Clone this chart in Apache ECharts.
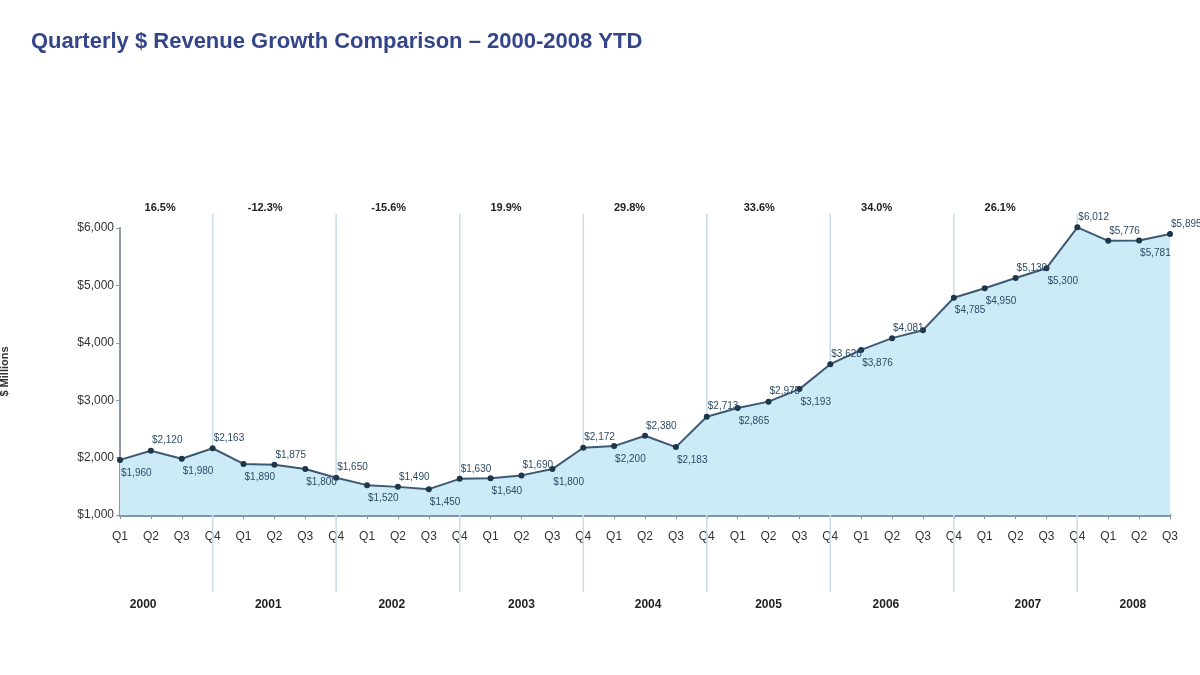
<!DOCTYPE html>
<html>
<head>
<meta charset="utf-8">
<script src="https://cdn.jsdelivr.net/npm/echarts@6/dist/echarts.min.js"></script>
<style>
  html, body { margin: 0; padding: 0; background: #ffffff; }
  #chart { width: 1200px; height: 675px; }
</style>
</head>
<body>
<div id="chart"></div>
<script>
// ---- Data ----
const quarters = [
  'Q1','Q2','Q3','Q4', 'Q1','Q2','Q3','Q4', 'Q1','Q2','Q3','Q4',
  'Q1','Q2','Q3','Q4', 'Q1','Q2','Q3','Q4', 'Q1','Q2','Q3','Q4',
  'Q1','Q2','Q3','Q4', 'Q1','Q2','Q3','Q4', 'Q1','Q2','Q3'
];
const revenue = [
  1960, 2120, 1980, 2163,   // 2000
  1890, 1875, 1800, 1650,   // 2001
  1520, 1490, 1450, 1630,   // 2002
  1640, 1690, 1800, 2172,   // 2003
  2200, 2380, 2183, 2713,   // 2004
  2865, 2975, 3193, 3628,   // 2005
  3876, 4081, 4220, 4785,   // 2006
  4950, 5130, 5300, 6012,   // 2007
  5776, 5781, 5895          // 2008 YTD
];
const years = ['2000','2001','2002','2003','2004','2005','2006','2007','2008'];
const yearGrowth = ['16.5%','-12.3%','-15.6%','19.9%','29.8%','33.6%','34.0%','26.1%'];
const yTickValues = [1000, 2000, 3000, 4000, 5000, 6000];

// ---- Layout (positions in quarter-index units, not data) ----
const yearLabelIdx   = [0.75, 4.8, 8.8, 13.0, 17.1, 21.0, 24.8, 29.4, 32.8];
const growthLabelIdx = [1.3, 4.7, 8.7, 12.5, 16.5, 20.7, 24.5, 28.5];
const separatorIdx   = [3, 7, 11, 15, 19, 23, 27, 31];
const labelBelow = [1,0,1,0, 1,0,1,0, 1,0,1,0, 1,0,1,0, 1,0,1,0, 1,0,1,0, 1,0,0,1, 1,0,1,0, 0,1,0];
const labelHidden = [26];

const fmt = v => '$' + v.toLocaleString('en-US');

const chart = echarts.init(document.getElementById('chart'), null, { renderer: 'canvas' });

const seriesData = revenue.map((v, i) => ({
  value: v,
  label: labelHidden.includes(i) ? { show: false } : (labelBelow[i]
    ? { position: 'right', distance: 0, offset: [-2, 13] }
    : { position: 'right', distance: 0, offset: [-2, -10] })
}));

chart.setOption({
  backgroundColor: '#ffffff',
  animation: false,
  title: {
    text: 'Quarterly $ Revenue Growth Comparison \u2013 2000-2008 YTD',
    left: 26, top: 26,
    textStyle: { fontFamily: 'Liberation Sans', fontSize: 22, fontWeight: 'bold', color: '#34458a' }
  },
  grid: { left: 120, right: 30, top: 228, bottom: 160, containLabel: false, outerBoundsMode: 'none' },
  xAxis: [
    {
      type: 'category',
      data: quarters,
      boundaryGap: false,
      axisLine: { lineStyle: { color: '#7d97ad', width: 3 } },
      axisTick: { show: true, length: 4, lineStyle: { color: '#7d97ad' }, interval: 0 },
      axisLabel: { interval: 0, margin: 16, fontFamily: 'Liberation Sans', fontSize: 12, color: '#333333' },
      splitLine: { show: false }
    },
    {
      type: 'value', min: 0, max: quarters.length - 1, show: false
    }
  ],
  yAxis: {
    type: 'value',
    min: 1000, max: 6000, interval: 1000,
    name: '$ Millions',
    nameLocation: 'middle',
    nameGap: 110,
    nameTextStyle: { fontFamily: 'Liberation Sans', fontSize: 11, fontWeight: 'bold', color: '#333333' },
    axisLine: { show: true, lineStyle: { color: '#8b9bab', width: 2 } },
    axisTick: { show: true, length: 4, lineStyle: { color: '#8b9bab' } },
    axisLabel: {
      fontFamily: 'Liberation Sans', fontSize: 12, color: '#333333', margin: 6,
      formatter: v => yTickValues.includes(v) ? fmt(v) : ''
    },
    splitLine: { show: false }
  },
  series: [{
    type: 'line',
    xAxisIndex: 0,
    data: seriesData,
    clip: false,
    symbol: 'circle',
    symbolSize: 6,
    itemStyle: { color: '#1f3549' },
    lineStyle: { color: '#3d5a74', width: 2 },
    areaStyle: { color: '#cdeaf7', opacity: 1 },
    label: {
      show: true,
      formatter: p => fmt(p.value),
      fontFamily: 'Liberation Sans', fontSize: 10, color: '#2f4b66'
    },
    z: 3
  }]
});

// ---- Decorations placed through the chart's own scales ----
function buildGraphics() {
  const gTop = 228, gBottom = 675 - 160;
  const els = [];
  separatorIdx.forEach(i => {
    const x = chart.convertToPixel({ xAxisIndex: 1 }, i);
    els.push({
      type: 'line', silent: true, z: 1,
      shape: { x1: x, y1: 214, x2: x, y2: 592 },
      style: { stroke: '#c9dce7', lineWidth: 1.5 }
    });
  });
  years.forEach((y, k) => {
    const x = chart.convertToPixel({ xAxisIndex: 1 }, yearLabelIdx[k]);
    els.push({
      type: 'text', silent: true, z: 5,
      x: x, y: gBottom + 90,
      style: { text: y, fontFamily: 'Liberation Sans', fontSize: 12, fontWeight: 'bold', fill: '#222222', align: 'center', verticalAlign: 'middle' }
    });
  });
  yearGrowth.forEach((g, k) => {
    const x = chart.convertToPixel({ xAxisIndex: 1 }, growthLabelIdx[k]);
    els.push({
      type: 'text', silent: true, z: 5,
      x: x, y: gTop - 20,
      style: { text: g, fontFamily: 'Liberation Sans', fontSize: 11, fontWeight: 'bold', fill: '#222222', align: 'center', verticalAlign: 'middle' }
    });
  });
  chart.setOption({ graphic: els });
}
buildGraphics();
</script>
</body>
</html>
